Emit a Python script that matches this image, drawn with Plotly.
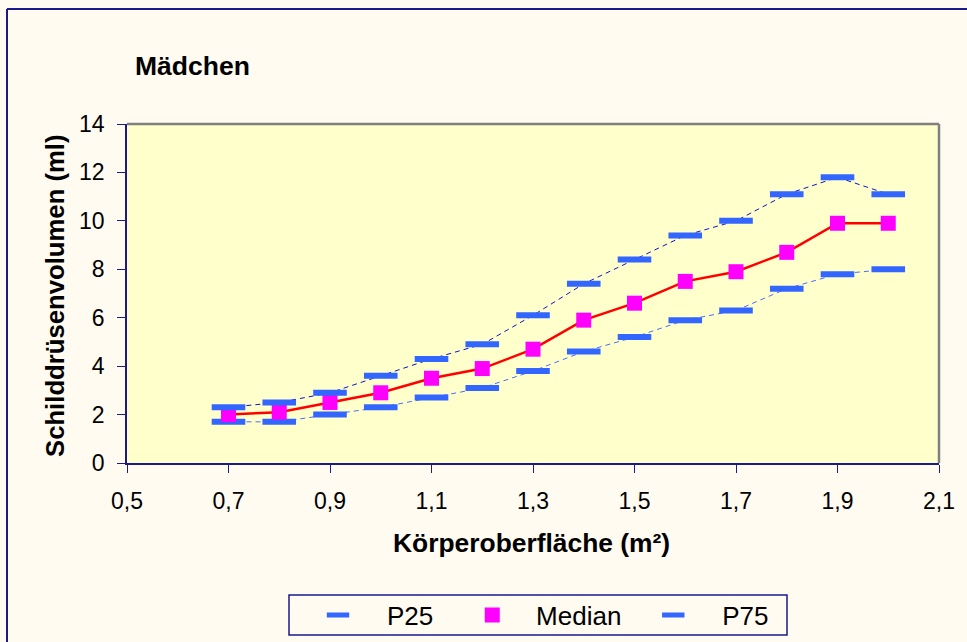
import plotly.graph_objects as go

# Data
bsa = [0.7, 0.8, 0.9, 1.0, 1.1, 1.2, 1.3, 1.4, 1.5, 1.6, 1.7, 1.8, 1.9, 2.0]
p25 = [1.7, 1.7, 2.0, 2.3, 2.7, 3.1, 3.8, 4.6, 5.2, 5.9, 6.3, 7.2, 7.8, 8.0]
median = [2.0, 2.1, 2.5, 2.9, 3.5, 3.9, 4.7, 5.9, 6.6, 7.5, 7.9, 8.7, 9.9, 9.9]
p75 = [2.3, 2.5, 2.9, 3.6, 4.3, 4.9, 6.1, 7.4, 8.4, 9.4, 10.0, 11.1, 11.8, 11.1]

x_ticks = [0.5, 0.7, 0.9, 1.1, 1.3, 1.5, 1.7, 1.9, 2.1]
y_ticks = [0, 2, 4, 6, 8, 10, 12, 14]

NAVY = "#1a1a8c"
BLUE = "#3366FF"
FONT = "Liberation Sans, Arial, sans-serif"
NB = "\u00a0"
TH = "\u2009"
HS = "\u200a"

fig = go.Figure()

# connecting lines (no legend)
fig.add_trace(go.Scatter(x=bsa, y=p25, mode="lines", showlegend=False, hoverinfo="skip",
                         line=dict(color="#4d6bff", width=1, dash="5px,4px")))
fig.add_trace(go.Scatter(x=bsa, y=p75, mode="lines", showlegend=False, hoverinfo="skip",
                         line=dict(color="#1010cc", width=1, dash="5px,4px")))
fig.add_trace(go.Scatter(x=bsa, y=median, mode="lines", showlegend=False, hoverinfo="skip",
                         line=dict(color="#ff0000", width=2.5)))

# markers (legend)
fig.add_trace(go.Scatter(x=bsa, y=p25, mode="markers", name=NB * 4 + "P25" + NB * 4 + TH,
                         marker=dict(symbol="line-ew", size=24, color=BLUE,
                                     line=dict(color=BLUE, width=6))))
fig.add_trace(go.Scatter(x=bsa, y=median, mode="markers", name=NB * 3 + HS + "Median" + NB * 3 + TH,
                         marker=dict(symbol="square", size=15, color="#ff00ff",
                                     line=dict(width=0))))
fig.add_trace(go.Scatter(x=bsa, y=p75, mode="markers", name=NB * 4 + "P75",
                         marker=dict(symbol="line-ew", size=24, color=BLUE,
                                     line=dict(color=BLUE, width=6))))

L, R, T, B = 127, 28, 124, 179
W, H = 967, 642
pw = W - L - R
ph = H - T - B

def px2paper_x(px):
    return (px - L) / pw

def px2paper_y(py):
    return (H - B - py) / ph

fig.update_layout(
    width=W, height=H,
    margin=dict(l=L, r=R, t=T, b=B, autoexpand=False),
    paper_bgcolor="#fffbf0",
    plot_bgcolor="#ffffcc",
    separators=",.",
    font=dict(family=FONT, size=23, color="black"),
    title=dict(text="<b>Mädchen</b>", x=135 / W, xanchor="left", xref="container",
               y=1 - 66 / H, yanchor="middle", yref="container",
               font=dict(size=26.5, family=FONT, color="black")),
    showlegend=True,
    legend=dict(orientation="h", xref="container", yref="container",
                x=318 / W, xanchor="left",
                y=1 - 615 / H, yanchor="middle",
                borderwidth=0, bgcolor="rgba(0,0,0,0)",
                font=dict(size=26, family=FONT), traceorder="normal"),
    xaxis=dict(range=[0.5, 2.1], tickvals=x_ticks, tickformat=".1f",
               showgrid=False, zeroline=False, showline=True, linecolor=NAVY, linewidth=1.5,
               ticks="outside", ticklen=8, tickcolor=NAVY, tickwidth=1,
               tickfont=dict(size=23), ticklabelstandoff=9),
    yaxis=dict(range=[0, 14], tickvals=y_ticks,
               showgrid=False, zeroline=False, showline=True, linecolor=NAVY, linewidth=1.5,
               ticks="outside", ticklen=8, tickcolor=NAVY, tickwidth=1,
               tickfont=dict(size=23), ticklabelstandoff=8),
    annotations=[
        dict(text="<b>Körperoberfläche (m²)</b>", xref="paper", yref="paper",
             x=px2paper_x(531), y=px2paper_y(543), xanchor="center", yanchor="middle",
             showarrow=False, font=dict(size=26.4, family=FONT)),
        dict(text="<b>Schilddrüsenvolumen (ml)</b>", xref="paper", yref="paper",
             x=px2paper_x(55), y=px2paper_y(296), xanchor="center", yanchor="middle",
             textangle=-90, showarrow=False, font=dict(size=25.7, family=FONT)),
    ],
    shapes=[
        # outer frame (left and top edges visible)
        dict(type="line", xref="paper", yref="paper",
             x0=px2paper_x(7), x1=px2paper_x(7), y0=px2paper_y(660), y1=px2paper_y(9),
             line=dict(color=NAVY, width=2), layer="below"),
        dict(type="line", xref="paper", yref="paper",
             x0=px2paper_x(7), x1=px2paper_x(967), y0=px2paper_y(9), y1=px2paper_y(9),
             line=dict(color=NAVY, width=2), layer="below"),
        # legend box
        dict(type="rect", xref="paper", yref="paper",
             x0=px2paper_x(289), x1=px2paper_x(787), y0=px2paper_y(635), y1=px2paper_y(595),
             line=dict(color=NAVY, width=1.5), fillcolor="rgba(0,0,0,0)", layer="below"),
        # gray plot border top/right
        dict(type="line", xref="paper", yref="paper", x0=0, x1=1, y0=1, y1=1,
             line=dict(color="#808080", width=2.5), layer="below"),
        dict(type="line", xref="paper", yref="paper", x0=1, x1=1, y0=0, y1=1,
             line=dict(color="#808080", width=2.5), layer="below"),
    ],
)

fig.write_html("out.html")
